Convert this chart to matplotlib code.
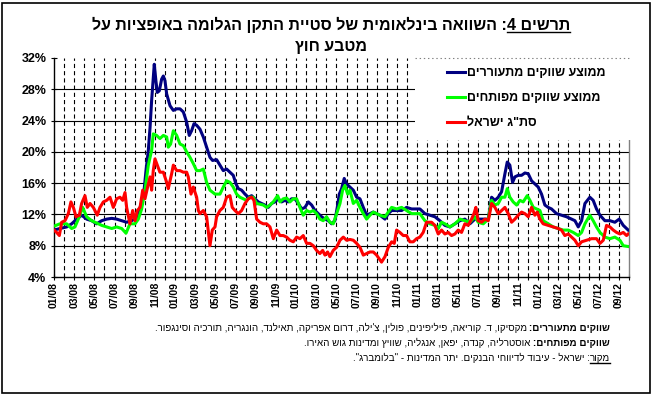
import re
import numpy as np
import pandas as pd
import matplotlib
matplotlib.use("Agg")
import matplotlib.pyplot as plt
from matplotlib.patches import Rectangle
from matplotlib.lines import Line2D

plt.rcParams["font.family"] = ["Liberation Sans", "DejaVu Sans"]
plt.rcParams["lines.scale_dashes"] = False

# x values are months since January 2008
emerging_x = [0.0, 0.59, 1.26, 1.75, 2.25, 2.74, 3.24, 3.73, 4.23, 4.73, 5.22, 5.72, 6.21, 6.71, 7.2, 7.7,
              8.2, 8.53, 8.86, 9.12, 9.35, 9.52, 9.68, 9.84, 9.94, 10.1, 10.24, 10.44, 10.67, 10.84, 11.0,
              11.17, 11.5, 11.83, 12.16, 12.49, 12.82, 13.15, 13.41, 13.64, 13.88, 14.14,
              14.47, 14.8, 15.13, 15.46, 15.72, 16.12, 16.45, 16.78, 17.11, 17.44, 17.77, 18.04, 18.27,
              18.6, 18.93, 19.26, 19.59, 19.92, 20.25, 20.58, 20.91, 21.24, 21.57, 21.9, 22.23, 22.56,
              22.89, 23.22, 23.55, 23.88, 24.22, 24.55, 24.88, 25.21, 25.54, 25.87, 26.2, 26.53, 26.86,
              27.19, 27.52, 27.85, 28.08, 28.28, 28.51, 28.77, 29.0, 29.34, 29.67, 30.0, 30.33, 30.66,
              30.99, 31.32, 31.65, 31.98, 32.31, 32.81, 33.14, 33.47, 33.96, 34.46, 34.95, 35.45, 35.94,
              36.27, 36.77, 37.26, 37.76, 38.25, 38.75, 39.25, 39.74, 40.24, 40.73, 41.23, 41.72, 42.22,
              42.72, 43.05, 43.38, 43.71, 44.04, 44.37, 44.7, 44.93, 45.19, 45.46, 45.69, 46.02, 46.35,
              46.68, 47.01, 47.34, 47.67, 48.0, 48.33, 48.66, 48.99, 49.32, 49.82, 50.31, 50.81, 51.31,
              51.64, 51.97, 52.3, 52.63, 53.12, 53.45, 53.78, 54.12, 54.61, 55.11, 55.6, 56.03, 56.43, 56.92]
emerging = [10.0, 10.2, 10.4, 10.8, 11.4, 11.9, 11.4, 11.2, 10.8, 11.2, 11.4, 11.5, 11.4, 11.2, 11.0, 11.2,
            11.6, 12.9, 14.2, 17.6, 20.2, 23.1, 26.6, 29.5, 31.2, 29.1, 27.6, 27.8, 29.3, 29.7, 29.1,
            27.4, 25.9, 25.3, 25.5, 25.5, 25.1, 23.8, 22.1, 22.7, 23.6, 23.4,
            22.9, 21.9, 20.6, 19.3, 18.9, 19.0, 18.3, 17.6, 17.8, 17.4, 17.0, 15.9, 15.3,
            15.1, 14.6, 14.2, 14.4, 14.0, 13.6, 13.4, 13.2, 12.9, 13.4, 13.6, 14.0, 13.6,
            13.8, 13.6, 14.0, 14.0, 13.4, 12.7, 12.9, 13.6, 13.2, 12.5, 12.1, 11.7, 11.4,
            11.2, 10.8, 11.2, 12.9, 14.6, 15.3, 16.6, 15.9, 15.5, 15.1, 14.2, 14.0, 12.9,
            11.9, 12.1, 12.3, 12.1, 11.9, 11.4, 12.1, 12.5, 12.5, 12.5, 12.9, 12.7, 12.7,
            12.7, 12.1, 11.9, 11.7, 11.2, 10.6, 10.4, 10.8, 11.2, 11.4, 10.8, 11.4, 11.4,
            11.4, 11.4, 14.2, 13.8, 14.2, 14.9, 17.2, 18.7, 18.3, 16.1, 16.8, 17.0, 17.0,
            17.3, 17.2, 16.3, 15.9, 15.5, 14.6, 13.2, 12.9, 12.7, 12.1, 11.9, 11.7, 11.4,
            11.2, 10.4, 11.2, 13.4, 14.2, 13.8, 12.7, 11.9, 11.2, 11.2, 11.0, 11.4, 10.6, 10.0]

developed_x = [0.0, 0.59, 1.26, 1.75, 2.08, 2.41, 2.84, 3.24, 3.73, 4.23, 4.73, 5.22, 5.72, 6.21, 6.71,
               7.14, 7.53, 8.03, 8.36, 8.69, 9.02, 9.35, 9.68, 9.84, 10.17, 10.5, 10.84, 11.17, 11.33,
               11.56, 11.83, 12.16, 12.49, 12.82, 13.15, 13.48, 13.81, 14.14,
               14.47, 14.8, 15.13, 15.46, 15.96, 16.45, 16.78, 17.11, 17.44, 17.77, 18.1, 18.43, 18.76,
               19.09, 19.42, 19.75, 20.09, 20.42, 20.75, 21.08, 21.41, 21.74, 22.17, 22.4, 22.73, 23.06,
               23.39, 23.72, 24.05, 24.38, 24.71, 25.04, 25.37, 25.7, 26.03, 26.36, 26.69, 27.02, 27.35,
               27.68, 28.02, 28.35, 28.61, 28.84, 29.11, 29.34, 29.67, 30.0, 30.33, 30.66, 30.99, 31.32,
               31.65, 31.98, 32.31, 32.81, 33.14, 33.47, 33.96, 34.46, 34.95, 35.45, 35.94,
               36.27, 36.77, 37.26, 37.76, 38.09, 38.42, 38.75, 39.25, 39.74, 40.24, 40.73, 41.23, 41.72,
               42.05, 42.55, 43.05, 43.38, 43.71, 44.04, 44.37, 44.7, 44.93, 45.19, 45.52, 45.86, 46.19,
               46.51, 46.91, 47.18, 47.51, 47.84, 48.17, 48.49, 48.99, 49.49, 49.98, 50.48, 50.98, 51.47,
               51.97, 52.3, 52.63, 53.12, 53.45, 53.78, 54.12, 54.61, 55.11, 55.6, 56.1, 56.43, 56.92]
developed = [10.5, 10.8, 10.8, 10.2, 10.4, 11.4, 12.9, 11.7, 11.2, 10.9, 10.6, 10.4, 10.2, 10.4, 10.2,
             9.6, 10.8, 10.8, 11.4, 12.7, 15.1, 18.3, 20.2, 22.3, 22.1, 21.7, 22.1, 21.9, 20.6,
             21.0, 22.7, 22.1, 21.0, 20.8, 20.0, 19.3, 18.5, 17.6,
             17.6, 17.8, 16.1, 15.1, 14.6, 14.6, 15.5, 16.3, 16.1, 15.5, 14.6, 14.2, 14.0,
             13.8, 14.2, 14.2, 13.4, 13.3, 13.2, 12.9, 13.2, 13.6, 14.4, 13.6, 14.0, 14.1,
             13.6, 14.0, 14.0, 12.9, 11.9, 12.5, 12.3, 12.5, 12.1, 11.4, 11.2, 11.7, 11.0,
             10.8, 12.1, 13.4, 15.1, 15.7, 14.6, 15.1, 13.4, 13.8, 12.9, 12.1, 11.4, 11.9,
             12.3, 12.1, 11.9, 11.7, 12.3, 12.9, 12.7, 12.9, 12.5, 12.1, 12.1,
             12.1, 11.2, 10.8, 10.6, 10.2, 11.0, 10.8, 10.4, 10.8, 11.4, 11.2, 11.0, 11.7,
             11.0, 10.8, 11.4, 13.8, 13.2, 13.4, 14.2, 14.2, 15.3, 14.2, 13.6, 13.2, 13.8,
             13.6, 14.4, 13.8, 12.9, 12.7, 12.5, 11.2, 10.8, 10.4, 10.2, 10.0, 10.0, 9.7,
             9.3, 9.7, 10.8, 11.9, 11.2, 10.4, 9.7, 9.1, 8.9, 9.1, 8.7, 8.0, 7.9]

israel_x = [0.0, 0.26, 0.53, 0.76, 1.09, 1.42, 1.68, 1.92, 2.18, 2.51, 2.74, 3.07, 3.3, 3.57, 3.9, 4.29,
            4.56, 4.89, 5.22, 5.55, 5.88, 6.21, 6.54, 6.81, 7.04, 7.2, 7.53, 7.8, 8.03, 8.26, 8.53, 8.79,
            9.02, 9.28, 9.52, 9.68, 9.84, 10.01, 10.24, 10.5, 10.84, 11.17, 11.33, 11.66, 11.83, 12.16,
            12.49, 12.82, 13.15, 13.31, 13.58, 13.81, 14.14, 14.31,
            14.47, 14.8, 15.13, 15.46, 15.69, 15.96, 16.12, 16.45, 16.78, 17.11, 17.44, 17.67, 17.94,
            18.27, 18.6, 18.93, 19.26, 19.59, 19.82, 20.09, 20.42, 20.75, 21.08, 21.41, 21.74, 22.07,
            22.4, 22.73, 23.06, 23.39, 23.72, 24.05, 24.38, 24.71, 25.04, 25.37, 25.7, 26.03, 26.36,
            26.63, 26.86, 27.12, 27.35, 27.68, 28.02, 28.35, 28.68, 29.01, 29.34, 29.67, 30.0, 30.33,
            30.66, 30.99, 31.32, 31.65, 31.98, 32.47, 32.81, 33.14, 33.47, 33.73, 33.96, 34.29, 34.62,
            34.95, 35.28, 35.61, 35.94,
            36.27, 36.6, 36.93, 37.43, 37.76, 38.09, 38.42, 38.75, 39.08, 39.41, 39.74, 40.07, 40.4,
            40.73, 41.06, 41.39, 41.63, 41.82, 42.05, 42.38, 42.72, 43.05, 43.38, 43.71, 44.04, 44.37,
            44.7, 45.03, 45.36, 45.69, 46.02, 46.35, 46.68, 47.01, 47.34, 47.67, 47.9, 48.17, 48.49,
            48.99, 49.49, 49.98, 50.31, 50.64, 50.98, 51.31, 51.64, 51.97, 52.3, 52.79, 53.29, 53.78,
            54.12, 54.45, 54.77, 55.11, 55.44, 55.77, 56.1, 56.43, 56.76, 56.92]
israel = [10.0, 9.7, 9.3, 11.0, 11.2, 12.1, 13.6, 12.9, 11.7, 11.9, 13.4, 14.4, 12.9, 13.4, 12.9, 11.9,
          12.9, 13.6, 13.8, 14.2, 12.9, 14.0, 14.2, 13.8, 14.8, 12.9, 10.8, 12.5, 11.2, 12.5, 12.9, 15.1,
          14.0, 15.5, 16.8, 15.1, 17.6, 19.1, 18.3, 17.4, 17.4, 16.1, 15.3, 17.2, 18.3, 17.6,
          17.6, 17.4, 17.4, 16.8, 14.6, 15.5, 14.2, 12.5,
          12.1, 12.5, 11.7, 8.0, 10.0, 10.4, 11.7, 12.5, 12.9, 14.2, 14.4, 12.9, 12.5,
          12.1, 12.5, 13.4, 14.0, 14.2, 13.8, 11.4, 11.0, 10.8, 10.8, 10.4, 8.9, 10.0,
          9.3, 9.3, 9.1, 8.7, 8.5, 9.1, 8.9, 9.3, 8.3, 8.3, 8.0, 7.4, 7.0,
          7.4, 6.8, 7.2, 6.6, 7.4, 7.8, 8.7, 9.1, 8.7, 8.8, 8.7, 8.3, 7.8,
          6.8, 7.0, 7.2, 7.2, 6.8, 5.9, 6.6, 7.8, 8.5, 8.3, 10.0, 9.7, 9.3,
          9.3, 8.5, 8.5, 8.9,
          9.1, 9.7, 11.0, 11.0, 10.6, 9.5, 10.0, 9.5, 9.7, 9.3, 9.5, 10.0, 9.7,
          10.8, 10.6, 11.4, 12.1, 12.9, 11.2, 11.0, 11.4, 11.2, 13.4, 12.9, 12.1, 12.5,
          12.9, 12.1, 11.0, 11.4, 11.9, 12.3, 12.1, 11.7, 12.9, 11.9, 12.3, 11.4, 10.8,
          10.6, 10.4, 10.2, 10.0, 9.3, 9.5, 9.1, 8.7, 8.0, 8.5, 8.7, 8.9, 8.9,
          8.3, 8.7, 10.6, 10.4, 10.0, 9.7, 9.5, 9.7, 9.3, 9.5]

series_names = ["ממוצע שווקים מתעוררים", "ממוצע שווקים מפותחים", "סת\"ג ישראל"]
series_colors = ["#000080", "#00FF00", "#FF0000"]

months = pd.date_range("2008-01-01", "2012-10-01", freq="MS")
tick_labels = [d.strftime("%m/%y") if i % 2 == 0 else "" for i, d in enumerate(months)]
y_ticks = [4, 8, 12, 16, 20, 24, 28, 32]

title_parts = [("תרשים 4", "bold", True),
               (": השוואה בינלאומית של סטיית התקן הגלומה באופציות על", "bold", False)]
title_line2 = "מטבע חוץ"
note1 = [("שווקים מתעוררים:", "bold", False),
         (" מקסיקו, ד. קוריאה, פיליפינים, פולין, צ'ילה, דרום אפריקה, תאילנד, הונגריה, תורכיה וסינגפור.", "normal", False)]
note2 = [("שווקים מפותחים:", "bold", False),
         (" אוסטרליה, קנדה, יפאן, אנגליה, שוויץ ומדינות גוש האירו.", "normal", False)]
note3 = [("מקור", "normal", True),
         (": ישראל - עיבוד לדיווחי הבנקים. יתר המדינות - \"בלומברג\".", "normal", False)]


def rtl(s):
    # crude visual ordering for right-to-left text; keeps number runs as they are
    runs = re.findall(r"[0-9A-Za-z]+(?:[./][0-9A-Za-z]+)*|.", s)
    return "".join(reversed(runs))


W, H = 655, 397
fig = plt.figure(figsize=(W / 100, H / 100), dpi=100)
fig.patch.set_facecolor("white")
renderer = fig.canvas.get_renderer()


def rich_line(y, parts, x, size, align="right"):
    # parts in logical order, first one is the rightmost; x, y in pixels from top-left
    items = []
    for text, weight, ul in parts:
        gap = 2.5 if text.startswith(" ") else 0.0
        t = fig.text(0, 1 - y / H, rtl(text.strip()), fontsize=size, fontweight=weight,
                     ha="left", va="baseline")
        w = t.get_window_extent(renderer).width
        items.append((t, w, ul, gap))
    total = sum(w + g for _, w, _, g in items)
    right = x if align == "right" else x + total / 2
    for t, w, ul, gap in items:
        right -= gap
        left = right - w
        t.set_x(left / W)
        if ul:
            fig.add_artist(Line2D([left / W, right / W], [1 - (y + 2) / H] * 2,
                                  color="black", lw=1.0, transform=fig.transFigure))
        right = left


ax = fig.add_axes([54 / W, 1 - 277 / H, 575 / W, 219 / H])
ax.set_xlim(0, 57)
ax.set_ylim(4, 32)

for v in y_ticks[1:-1]:
    ax.axhline(v, color="black", lw=0.8, zorder=1)
for m in range(1, 57):
    ax.axvline(m, color="black", lw=0.8, ls=(0, (3.0, 2.2)), zorder=1)

xs = [emerging_x, developed_x, israel_x]
ys = [emerging, developed, israel]
handles = []
for x, y, c, name in zip(xs, ys, series_colors, series_names):
    ln, = ax.plot(x, y, color=c, lw=2.2, zorder=3, label=rtl(name))
    handles.append(ln)

ax.set_yticks(y_ticks)
ax.set_yticklabels([f"{v}%" for v in y_ticks], fontweight="bold", fontsize=9)
ax.set_xticks(range(len(months)))
ax.set_xticklabels(tick_labels, rotation=90, fontweight="bold", fontsize=7.5)
ax.tick_params(axis="both", direction="inout", length=5, width=0.8, color="black")
ax.tick_params(axis="x", pad=1)
ax.tick_params(axis="y", pad=3)

ax.spines["top"].set_visible(False)
ax.spines["left"].set_linewidth(1.0)
ax.spines["bottom"].set_linewidth(1.0)
ax.spines["right"].set_color("#808080")
ax.spines["right"].set_linewidth(1.0)

# white legend box hides grid in the upper right
box_x0 = (415 - 54) / 575
box_y0 = (277 - 140) / 219
ax.add_patch(Rectangle((box_x0, box_y0), 1.02 - box_x0, 1.02 - box_y0, transform=ax.transAxes,
                       facecolor="white", edgecolor="none", zorder=4, clip_on=False))
ax.plot([box_x0, 1.0], [1.002, 1.002], transform=ax.transAxes, color="#808080", lw=0.8,
        ls=(0, (1, 2)), zorder=5, clip_on=False)
leg = ax.legend(handles=handles, loc="upper left", bbox_to_anchor=((447 - 54) / 575, (277 - 67) / 219),
                frameon=False, borderpad=0, borderaxespad=0, handlelength=1.45, handletextpad=0.15,
                labelspacing=1.05, prop={"weight": "bold", "size": 9})
leg.set_zorder(6)

rich_line(30, title_parts, 331, 11.5, align="center")
rich_line(51, [(title_line2, "bold", False)], 331, 11.5, align="center")
rich_line(331, note1, 610, 7)
rich_line(346, note2, 610, 7)
rich_line(361, note3, 610, 7)

fig.add_artist(Rectangle((2 / W, 4 / H), 648 / W, 390 / H, fill=False, edgecolor="black", lw=1.2,
                         transform=fig.transFigure))

fig.savefig("out.png", dpi=100)
